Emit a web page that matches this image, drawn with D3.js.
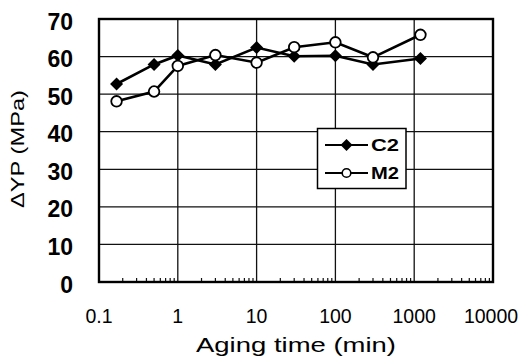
<!DOCTYPE html>
<html>
<head>
<meta charset="utf-8">
<script src="https://cdn.jsdelivr.net/npm/d3@7"></script>
<style>
  html, body { margin: 0; padding: 0; background: #fff; }
  svg { display: block; }
</style>
</head>
<body>
<svg id="chart" width="524" height="362"></svg>
<script>
// ---- data ----
const agingTime = [0.167, 0.5, 1, 3, 10, 30, 100, 300, 1200];
const c2Values  = [52.7, 57.9, 60.3, 57.9, 62.4, 60.1, 60.2, 57.9, 59.5];
const m2Values  = [48.1, 50.7, 57.5, 60.4, 58.4, 62.5, 63.8, 59.8, 65.8];
const xTicks = [0.1, 1, 10, 100, 1000, 10000];
const xTickLabels = ["0.1", "1", "10", "100", "1000", "10000"];
const yTicks = [0, 10, 20, 30, 40, 50, 60, 70];
const seriesNames = ["C2", "M2"];
const xTitle = "Aging time (min)";
const yTitle = "\u0394YP (MPa)";

// ---- layout ----
const svg = d3.select("#chart");
const L = 99, R = 493, T = 19, B = 282;
const x = d3.scaleLog().domain([0.1, 10000]).range([L, R]);
const y = d3.scaleLinear().domain([0, 70]).range([B, T]);

const font = "'Liberation Sans', Arial, sans-serif";

// gridlines
const g = svg.append("g");
g.selectAll(".hg").data(yTicks).join("line")
  .attr("x1", L).attr("x2", R)
  .attr("y1", d => y(d)).attr("y2", d => y(d))
  .attr("stroke", "#111").attr("stroke-width", 1.3);
g.selectAll(".vg").data(xTicks).join("line")
  .attr("y1", T).attr("y2", B)
  .attr("x1", d => x(d)).attr("x2", d => x(d))
  .attr("stroke", "#111").attr("stroke-width", 1.3);

// minor ticks on bottom axis (inside)
const minor = [];
for (let e = -1; e < 4; e++) for (let k = 2; k <= 9; k++) minor.push(k * Math.pow(10, e));
g.selectAll(".mt").data(minor).join("line")
  .attr("x1", d => x(d)).attr("x2", d => x(d))
  .attr("y1", B).attr("y2", B - 4)
  .attr("stroke", "#111").attr("stroke-width", 1.2);

// frame
svg.append("rect").attr("x", L).attr("y", T).attr("width", R - L).attr("height", B - T)
  .attr("fill", "none").attr("stroke", "#000").attr("stroke-width", 2.4);

// y tick labels
svg.append("g").selectAll("text").data(yTicks).join("text")
  .attr("x", 73).attr("y", d => y(d) + 4.5)
  .attr("text-anchor", "end").attr("dominant-baseline", "middle")
  .attr("font-family", font).attr("font-weight", "bold").attr("font-size", 23)
  .attr("fill", "#000").text(d => d);

// x tick labels
svg.append("g").selectAll("text").data(xTicks).join("text")
  .attr("x", (d, i) => x(d) - (i === xTicks.length - 1 ? 2 : 0)).attr("y", 322.5)
  .attr("text-anchor", "middle")
  .attr("font-family", font).attr("font-size", 19.5)
  .attr("fill", "#000").text((d, i) => xTickLabels[i]);

// axis titles
svg.append("text").attr("x", 296).attr("y", 352)
  .attr("text-anchor", "middle").attr("font-family", font).attr("font-size", 21)
  .attr("textLength", 200).attr("lengthAdjust", "spacingAndGlyphs")
  .attr("fill", "#000").text(xTitle);
svg.append("text").attr("transform", "translate(24,149) rotate(-90)")
  .attr("text-anchor", "middle").attr("font-family", font).attr("font-size", 19)
  .attr("textLength", 118).attr("lengthAdjust", "spacingAndGlyphs")
  .attr("fill", "#000").text(yTitle);

// lines
const line = d3.line().x(d => x(d[0])).y(d => y(d[1]));
const c2 = agingTime.map((t, i) => [t, c2Values[i]]);
const m2 = agingTime.map((t, i) => [t, m2Values[i]]);

svg.append("path").datum(c2).attr("d", line).attr("fill", "none")
  .attr("stroke", "#000").attr("stroke-width", 2.6);
const diamond = (s) => `M0,${-s}L${s},0L0,${s}L${-s},0Z`;
svg.append("g").selectAll("path").data(c2).join("path")
  .attr("transform", d => `translate(${x(d[0])},${y(d[1])})`)
  .attr("d", diamond(6.5)).attr("fill", "#000");

svg.append("path").datum(m2).attr("d", line).attr("fill", "none")
  .attr("stroke", "#000").attr("stroke-width", 2.6);
svg.append("g").selectAll("circle").data(m2).join("circle")
  .attr("cx", d => x(d[0])).attr("cy", d => y(d[1])).attr("r", 5.3)
  .attr("fill", "#fff").attr("stroke", "#000").attr("stroke-width", 1.8);

// legend
const lg = svg.append("g");
lg.append("rect").attr("x", 317.5).attr("y", 128.5).attr("width", 88.5).attr("height", 60)
  .attr("fill", "#fff").attr("stroke", "#000").attr("stroke-width", 1.5);
const ly = [145, 173];
lg.selectAll(".ll").data(ly).join("line")
  .attr("x1", 325).attr("x2", 368).attr("y1", d => d).attr("y2", d => d)
  .attr("stroke", "#000").attr("stroke-width", 1.8);
lg.append("path").attr("transform", `translate(346.5,${ly[0]})`).attr("d", diamond(6)).attr("fill", "#000");
lg.append("circle").attr("cx", 346.5).attr("cy", ly[1]).attr("r", 4.3)
  .attr("fill", "#fff").attr("stroke", "#000").attr("stroke-width", 1.6);
lg.selectAll(".lt").data(seriesNames).join("text")
  .attr("x", 371).attr("y", (d, i) => ly[i] + 6)
  .attr("font-family", font).attr("font-weight", "bold").attr("font-size", 17)
  .attr("textLength", 28).attr("lengthAdjust", "spacingAndGlyphs")
  .attr("fill", "#000").text(d => d);
</script>
</body>
</html>
